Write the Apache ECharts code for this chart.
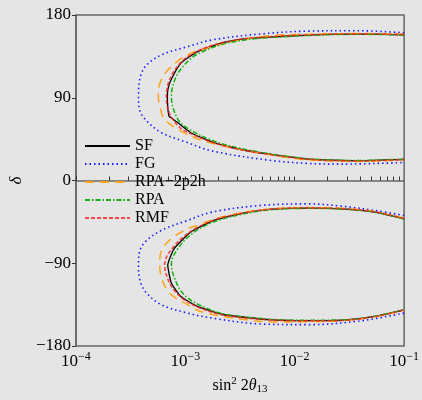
<!DOCTYPE html>
<html>
<head>
<meta charset="utf-8">
<script src="https://cdn.jsdelivr.net/npm/echarts@6/dist/echarts.min.js"></script>
<style>
html, body { margin: 0; padding: 0; background: #e5e5e5; }
#main { width: 422px; height: 400px; }
</style>
</head>
<body>
<div id="main"></div>
<script>
// contour points [sin^2 2theta13, delta]
var sfUpper = [[0.1,158.5],[0.054,159.3],[0.027,159.3],[0.0135,158.2],[0.0059,156],[0.0036,154.2],[0.0021,149.2],[0.00129,140.2],[0.00091,127.7],[0.00074,109.6],[0.000695,100],[0.000685,91.6],[0.00069,80],[0.000709,70],[0.00077,67],[0.00112,52],[0.00182,41.2],[0.00316,34],[0.0059,28.6],[0.0135,23.2],[0.038,21.4],[0.1,22.9]];
var sfLower = [[0.1,-41.6],[0.054,-34.3],[0.027,-30.8],[0.0135,-30],[0.0059,-31.5],[0.00316,-36.2],[0.00182,-43.4],[0.00112,-56],[0.00079,-74],[0.00069,-92],[0.000745,-111.8],[0.00091,-126.2],[0.00129,-137],[0.00224,-146],[0.0059,-151.4],[0.0135,-152.5],[0.027,-152],[0.054,-147.8],[0.1,-140.6]];

var fgUpper = [[0.1,160.7],[0.038,162.9],[0.0135,162.5],[0.0048,159.3],[0.00174,152.8],[0.00105,145.6],[0.000605,136.6],[0.00043,124],[0.00038,108],[0.000373,91.6],[0.00038,78],[0.00043,66.4],[0.000605,52],[0.00105,41.2],[0.00174,32.2],[0.0059,22],[0.0135,18.5],[0.027,17.8],[0.1,19.6]];
var fgLower = [[0.1,-38],[0.054,-32.6],[0.027,-27.9],[0.0135,-25.4],[0.0048,-27.2],[0.00174,-34.4],[0.00105,-43.4],[0.000605,-54.2],[0.00043,-66.7],[0.00038,-78],[0.000373,-92],[0.00038,-106],[0.00043,-120.7],[0.000605,-135.2],[0.00105,-144.2],[0.00174,-149.6],[0.0048,-156],[0.0135,-156.8],[0.038,-153],[0.1,-144.2]];

var rpa2Upper = [[0.1,159],[0.038,159.8],[0.0135,159],[0.0059,157.5],[0.00316,152.8],[0.00158,143.9],[0.00098,134.8],[0.000695,120.4],[0.00059,107],[0.000565,93.4],[0.000585,80],[0.000647,66.4],[0.000914,53.8],[0.00148,43],[0.00316,34],[0.0059,28],[0.0135,22.5],[0.038,20.8],[0.1,22.5]];
var rpa2Lower = [[0.1,-41],[0.054,-33.8],[0.027,-30.3],[0.0135,-29.5],[0.0059,-31],[0.00224,-39],[0.00129,-48.8],[0.00105,-52.4],[0.000745,-63.2],[0.000605,-76],[0.000583,-90],[0.000605,-106],[0.000718,-122.6],[0.00105,-135.2],[0.00138,-142.4],[0.00316,-150.7],[0.0072,-154],[0.0135,-153.5],[0.027,-152.5],[0.054,-148.3],[0.1,-141]];

var rpaUpper = [[0.1,158.3],[0.038,159],[0.0135,157.8],[0.0059,155.4],[0.0036,153],[0.0021,147.5],[0.00129,137.5],[0.00105,129.4],[0.000824,113],[0.000745,91.6],[0.000855,66.4],[0.00109,55.6],[0.00182,43],[0.00316,35],[0.0059,29],[0.0135,23.6],[0.038,21.8],[0.1,23.2]];
var rpaLower = [[0.1,-41.8],[0.054,-34.5],[0.027,-31],[0.0135,-30.3],[0.0059,-32],[0.00316,-37.2],[0.00182,-45],[0.00118,-57],[0.00088,-72],[0.000745,-91],[0.00082,-110],[0.00098,-124.5],[0.00135,-135.5],[0.00224,-145],[0.0059,-150.8],[0.0135,-152],[0.027,-151.7],[0.054,-147.5],[0.1,-140.3]];

var rmfUpper = [[0.1,158.8],[0.038,159.5],[0.0135,158.5],[0.0059,156.3],[0.0036,154.4],[0.0021,149.4],[0.00129,140.6],[0.00091,128.5],[0.00072,110],[0.000671,92],[0.00071,74],[0.00088,58],[0.00112,51],[0.00182,41],[0.00316,33.8],[0.0059,28.3],[0.0135,23],[0.038,21.2],[0.1,22.7]];
var rmfLower = [[0.1,-41.4],[0.054,-34.1],[0.027,-30.6],[0.0135,-29.8],[0.0059,-31.3],[0.00316,-36],[0.00182,-43.2],[0.00112,-55.5],[0.00078,-72],[0.000647,-91],[0.00072,-112],[0.00091,-126.8],[0.00129,-137.5],[0.00224,-146.3],[0.0059,-151.6],[0.0135,-152.7],[0.027,-152.2],[0.054,-148],[0.1,-140.8]];

var yTicks = [-180, -90, 0, 90, 180];

var font = 'Liberation Serif';

// minor + major tick positions for the log axis
var xTickVals = [];
for (var d = -4; d <= -2; d++) {
    for (var m = 1; m <= 9; m++) xTickVals.push(+(m * Math.pow(10, d)).toPrecision(3));
}
xTickVals.push(0.1);

var models = [
    { name: 'SF', up: sfUpper, lo: sfLower, color: '#000000', type: 'solid', width: 1.3, smooth: 0.15 },
    { name: 'FG', up: fgUpper, lo: fgLower, color: '#1a1aff', type: [1.5, 3], width: 1.6, smooth: 0.35 },
    { name: 'RPA\u22122p2h', up: rpa2Upper, lo: rpa2Lower, color: '#ffa31a', type: [9, 6], width: 1.5, smooth: 0.35 },
    { name: 'RPA', up: rpaUpper, lo: rpaLower, color: '#10b010', type: [5, 2, 1.5, 2], width: 1.5, smooth: 0.35 },
    { name: 'RMF', up: rmfUpper, lo: rmfLower, color: '#ff2020', type: [4, 2], width: 1.6, smooth: 0.35 }
];

var series = [];
models.forEach(function (mdl) {
    [mdl.up, mdl.lo].forEach(function (pts) {
        series.push({
            name: mdl.name,
            type: 'line',
            data: pts,
            symbol: 'none',
            smooth: mdl.smooth,
            animation: false,
            lineStyle: { color: mdl.color, type: mdl.type, width: mdl.width, opacity: mdl.name === 'RMF' ? 0.8 : 1 },
            itemStyle: { color: mdl.color }
        });
    });
});

var myChart = echarts.init(document.getElementById('main'));
myChart.setOption({
    backgroundColor: '#e5e5e5',
    animation: false,
    grid: {
        left: 73, right: 15, top: 15, bottom: 52,
        show: true, borderColor: '#666', borderWidth: 1.5
    },
    legend: {
        orient: 'vertical',
        left: 79,
        top: 133,
        itemWidth: 45,
        itemHeight: 14,
        itemGap: 2,
        data: models.map(function (m) { return m.name; }),
        itemStyle: { color: 'rgba(0,0,0,0)', borderColor: 'rgba(0,0,0,0)', borderWidth: 0, opacity: 0 },
        textStyle: { fontFamily: font, fontSize: 16, color: '#000', lineHeight: 14 }
    },
    xAxis: {
        type: 'log',
        logBase: 10,
        min: 1e-4,
        max: 0.1,
        name: '{a|sin}{s|2}{a| 2}{i|\u03b8}{b|13}',
        nameLocation: 'middle',
        nameGap: 30,
        nameTextStyle: {
            rich: {
                a: { fontFamily: font, fontSize: 16, color: '#000' },
                i: { fontFamily: font, fontSize: 16, fontStyle: 'italic', color: '#000' },
                s: { fontFamily: font, fontSize: 11, color: '#000', padding: [0, 0, 9, 0] },
                b: { fontFamily: font, fontSize: 11, color: '#000', padding: [7, 0, 0, 0] }
            }
        },
        axisLine: { lineStyle: { color: '#666', width: 1.5 } },
        axisTick: { inside: true, length: 4, customValues: xTickVals, lineStyle: { color: '#333', width: 1 } },
        splitLine: { show: false },
        axisLabel: {
            margin: 5,
            formatter: function (v) {
                var e = Math.round(Math.log10(v));
                return '{b|10}{s|' + (e < 0 ? '\u2212' : '') + Math.abs(e) + '}';
            },
            rich: {
                b: { fontFamily: font, fontSize: 17, color: '#000' },
                s: { fontFamily: font, fontSize: 12, color: '#000', padding: [0, 0, 10, 0] }
            }
        }
    },
    yAxis: {
        type: 'value',
        min: yTicks[0],
        max: yTicks[yTicks.length - 1],
        interval: 90,
        name: '\u03b4',
        nameLocation: 'middle',
        nameRotate: 90,
        nameGap: 50,
        nameTextStyle: { fontFamily: font, fontSize: 17, fontStyle: 'italic', color: '#000' },
        axisLine: { show: true, lineStyle: { color: '#666', width: 1.5 } },
        axisTick: { show: true, inside: false, length: 4, lineStyle: { color: '#333', width: 1 } },
        splitLine: { show: false },
        axisLabel: {
            margin: 5,
            fontFamily: font,
            fontSize: 17,
            color: '#000',
            formatter: function (v) { return v < 0 ? '\u2212' + (-v) : String(v); }
        }
    },
    series: series
});
</script>
</body>
</html>
